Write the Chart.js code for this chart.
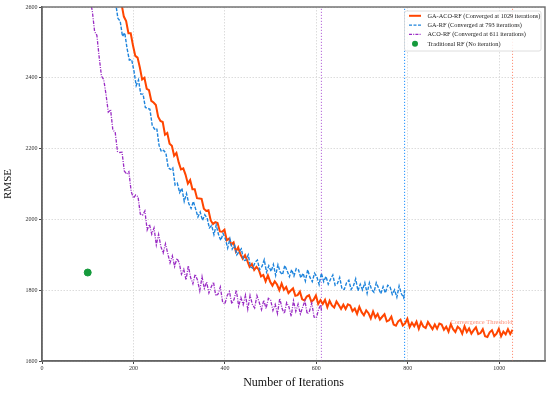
<!DOCTYPE html>
<html>
<head>
<meta charset="utf-8">
<script src="https://cdn.jsdelivr.net/npm/chart.js@4.4.0/dist/chart.umd.min.js"></script>
<style>
  body { margin: 0; background: #fff; }
  #wrap { width: 550px; height: 397px; }
</style>
</head>
<body>
<div id="wrap"><canvas id="rmseChart" width="550" height="397"></canvas></div>
<script>
const SERIF = "'Liberation Serif', 'Times New Roman', serif";

// Convergence points of each model
const gaAcoConv = 1029;
const gaConv = 793;
const acoConv = 611;

// GA-ACO-RF, every 5 iterations from 174 to 1029
const gaAcoRmse = [
    2608, 2573, 2560, 2526, 2526, 2491, 2462, 2457, 2429, 2395,
    2400, 2369, 2365, 2335, 2330, 2323, 2290, 2278, 2275, 2239,
    2244, 2214, 2208, 2180, 2188, 2161, 2141, 2144, 2126, 2101,
    2111, 2085, 2085, 2060, 2059, 2058, 2030, 2024, 2026, 1997,
    1987, 1992, 1990, 1966, 1965, 1971, 1941, 1946, 1929, 1935,
    1909, 1921, 1901, 1889, 1899, 1883, 1866, 1874, 1857, 1866,
    1858, 1839, 1843, 1825, 1842, 1824, 1813, 1825, 1816, 1800,
    1819, 1801, 1809, 1792, 1799, 1805, 1784, 1786, 1796, 1774,
    1771, 1782, 1786, 1768, 1773, 1785, 1761, 1772, 1761, 1773,
    1752, 1770, 1757, 1751, 1768, 1758, 1747, 1759, 1747, 1760,
    1757, 1741, 1748, 1733, 1753, 1738, 1729, 1743, 1735, 1720,
    1740, 1723, 1733, 1717, 1725, 1732, 1712, 1715, 1725, 1703,
    1700, 1712, 1717, 1700, 1706, 1719, 1696, 1708, 1698, 1711,
    1691, 1710, 1697, 1693, 1710, 1700, 1690, 1703, 1691, 1706,
    1703, 1688, 1697, 1683, 1704, 1690, 1682, 1697, 1691, 1677,
    1698, 1682, 1692, 1677, 1687, 1695, 1676, 1679, 1690, 1670,
    1668, 1681, 1687, 1670, 1677, 1691, 1670, 1683, 1675, 1690,
    1676, 1688
];

// GA-RF, every 5 iterations from 161 to 791, then 793
const gaRmse = [
    2612, 2568, 2560, 2517, 2527, 2483, 2450, 2452, 2420, 2378,
    2394, 2354, 2354, 2316, 2314, 2311, 2266, 2255, 2257, 2209,
    2192, 2195, 2187, 2146, 2141, 2146, 2097, 2102, 2076, 2088,
    2051, 2073, 2045, 2031, 2051, 2029, 2007, 2021, 1997, 2013,
    2004, 1976, 1983, 1957, 1984, 1957, 1941, 1960, 1945, 1919,
    1945, 1916, 1927, 1900, 1909, 1917, 1884, 1885, 1900, 1866,
    1862, 1879, 1885, 1858, 1867, 1886, 1851, 1869, 1853, 1873,
    1842, 1872, 1851, 1844, 1870, 1855, 1838, 1858, 1840, 1861,
    1857, 1835, 1848, 1826, 1858, 1836, 1824, 1848, 1838, 1816,
    1848, 1824, 1839, 1817, 1831, 1843, 1814, 1819, 1836, 1804,
    1802, 1821, 1828, 1802, 1812, 1832, 1798, 1817, 1801, 1821,
    1791, 1821, 1801, 1794, 1821, 1806, 1790, 1810, 1792, 1814,
    1810, 1788, 1801, 1780, 1812, 1790, 1778,
    1800
];

// ACO-RF, every 5 iterations from 100 to 610, then 611
const acoRmse = [
    2681, 2620, 2589, 2531, 2520, 2459, 2405, 2395, 2353, 2303,
    2310, 2252, 2247, 2192, 2189, 2190, 2137, 2128, 2135, 2079,
    2060, 2069, 2064, 2015, 2012, 2024, 1970, 1986, 1958, 1976,
    1928, 1958, 1923, 1905, 1931, 1904, 1877, 1897, 1867, 1890,
    1878, 1845, 1859, 1829, 1869, 1836, 1818, 1845, 1829, 1798,
    1838, 1805, 1823, 1792, 1809, 1823, 1784, 1789, 1809, 1766,
    1761, 1785, 1796, 1762, 1774, 1800, 1755, 1779, 1759, 1786,
    1746, 1785, 1760, 1750, 1785, 1766, 1745, 1772, 1748, 1777,
    1772, 1743, 1760, 1734, 1777, 1748, 1734, 1765, 1753, 1726,
    1770, 1740, 1761, 1733, 1752, 1770, 1733, 1741, 1764, 1724,
    1722, 1747, 1759,
    1742
];

// Traditional RF single point
const tradIter = [100];
const tradRmse = [1850];

const legendLabels = [
    'GA-ACO-RF (Converged at 1029 iterations)',
    'GA-RF (Converged at 793 iterations)',
    'ACO-RF (Converged at 611 iterations)',
    'Traditional RF (No iteration)'
];

// iteration numbers: start, start+step, ... and the convergence iteration last
function iterations(start, end, step) {
    const out = [];
    for (let i = start; i <= end; i += step) out.push(i);
    if (out[out.length - 1] !== end) out.push(end);
    return out;
}

function toPoints(xs, ys) {
    return ys.map((y, i) => ({ x: xs[i], y: y }));
}

const colors = {
    gaAco: '#ff4500',
    ga: '#1e84dc',
    aco: '#9a2cc4',
    trad: '#159a3c'
};

function vLine(x, color) {
    return {
        data: [{ x: x, y: 1600 }, { x: x, y: 2600 }],
        borderColor: color,
        borderWidth: 1,
        borderDash: [1.2, 1.8],
        pointRadius: 0,
        order: 5
    };
}

// frame, legend and threshold label
const extras = {
    id: 'extras',
    afterDatasetsDraw(chart) {
        const ctx = chart.ctx;
        const area = chart.chartArea;
        const xs = chart.scales.x;
        const ys = chart.scales.y;
        ctx.save();

        // threshold text
        ctx.font = '6.5px ' + SERIF;
        ctx.fillStyle = 'rgba(255, 110, 80, 0.75)';
        ctx.textAlign = 'right';
        ctx.textBaseline = 'bottom';
        ctx.fillText('Convergence Threshold', xs.getPixelForValue(gaAcoConv), ys.getPixelForValue(1700));

        // frame
        ctx.strokeStyle = '#6b6b6b';
        ctx.lineWidth = 1.4;
        ctx.strokeRect(area.left, area.top, area.right - area.left, area.bottom - area.top);

        // legend
        const lx = 404.5, ly = 11, lw = 136.5, lh = 40;
        ctx.fillStyle = 'rgba(255,255,255,0.85)';
        ctx.strokeStyle = '#d6d6d6';
        ctx.lineWidth = 0.8;
        ctx.beginPath();
        ctx.roundRect(lx, ly, lw, lh, 2);
        ctx.fill();
        ctx.stroke();

        const styles = [
            { color: colors.gaAco, dash: [], width: 2 },
            { color: colors.ga, dash: [3, 1.5], width: 1.3 },
            { color: colors.aco, dash: [3, 1.2, 1, 1.2], width: 1.3 }
        ];
        ctx.font = '6.3px ' + SERIF;
        ctx.textAlign = 'left';
        ctx.textBaseline = 'middle';
        legendLabels.forEach((label, i) => {
            const cy = 15.8 + i * 9.3;
            if (i < 3) {
                ctx.beginPath();
                ctx.setLineDash(styles[i].dash);
                ctx.strokeStyle = styles[i].color;
                ctx.lineWidth = styles[i].width;
                ctx.moveTo(409, cy);
                ctx.lineTo(421, cy);
                ctx.stroke();
                ctx.setLineDash([]);
            } else {
                ctx.beginPath();
                ctx.fillStyle = colors.trad;
                ctx.arc(415, cy, 3, 0, Math.PI * 2);
                ctx.fill();
            }
            ctx.fillStyle = '#222';
            ctx.fillText(label, 427.5, cy + 0.3);
        });
        ctx.restore();
    }
};

const axisGrid = {
    color: '#dcdcdc',
    tickColor: '#444',
    tickLength: 3,
    tickBorderDash: []
};

const ctxRmse = document.getElementById('rmseChart').getContext('2d');
const rmseChart = new Chart(ctxRmse, {
    type: 'line',
    data: {
        datasets: [
            {
                label: legendLabels[0],
                data: toPoints(iterations(174, gaAcoConv, 5), gaAcoRmse),
                borderColor: colors.gaAco,
                borderWidth: 2,
                pointRadius: 0,
                order: 3
            },
            {
                label: legendLabels[1],
                data: toPoints(iterations(161, gaConv, 5), gaRmse),
                borderColor: colors.ga,
                borderWidth: 1.4,
                borderDash: [3.5, 1.5],
                pointRadius: 0,
                order: 2
            },
            {
                label: legendLabels[2],
                data: toPoints(iterations(100, acoConv, 5), acoRmse),
                borderColor: colors.aco,
                borderWidth: 1.3,
                borderDash: [3.5, 1.3, 1, 1.3],
                pointRadius: 0,
                order: 1
            },
            {
                label: legendLabels[3],
                data: toPoints(tradIter, tradRmse),
                showLine: false,
                pointRadius: 3.5,
                pointBackgroundColor: colors.trad,
                pointBorderColor: colors.trad,
                order: 0
            },
            vLine(acoConv, 'rgba(170, 80, 210, 0.85)'),
            vLine(gaConv, 'rgba(30, 144, 255, 1)'),
            vLine(gaAcoConv, 'rgba(255, 120, 90, 0.8)')
        ]
    },
    options: {
        responsive: false,
        animation: false,
        layout: { padding: { top: 7, right: 5, left: 0, bottom: 0 } },
        plugins: {
            legend: { display: false },
            tooltip: { enabled: false }
        },
        scales: {
            x: {
                type: 'linear',
                min: 0,
                max: 1100,
                afterFit: (s) => { s.height = 36; },
                ticks: {
                    stepSize: 200,
                    includeBounds: false,
                    maxRotation: 0,
                    padding: 1,
                    color: '#333',
                    font: { family: SERIF, size: 6 },
                    callback: (v) => String(v)
                },
                grid: axisGrid,
                border: { display: true, color: '#555', width: 1.5, dash: [1.5, 1.5] },
                title: {
                    display: true,
                    text: 'Number of Iterations',
                    color: '#111',
                    font: { family: SERIF, size: 12 },
                    padding: { top: 0, bottom: 7 }
                }
            },
            y: {
                min: 1600,
                max: 2600,
                afterFit: (s) => { s.width = 42; },
                ticks: {
                    stepSize: 200,
                    padding: 1.5,
                    color: '#333',
                    font: { family: SERIF, size: 6 },
                    callback: (v) => String(v)
                },
                grid: axisGrid,
                border: { display: true, color: '#555', width: 1.5, dash: [1.5, 1.5] },
                title: {
                    display: true,
                    text: 'RMSE',
                    color: '#111',
                    font: { family: SERIF, size: 11 },
                    padding: { top: 1.5, bottom: 0 }
                }
            }
        }
    },
    plugins: [extras]
});
</script>
</body>
</html>
